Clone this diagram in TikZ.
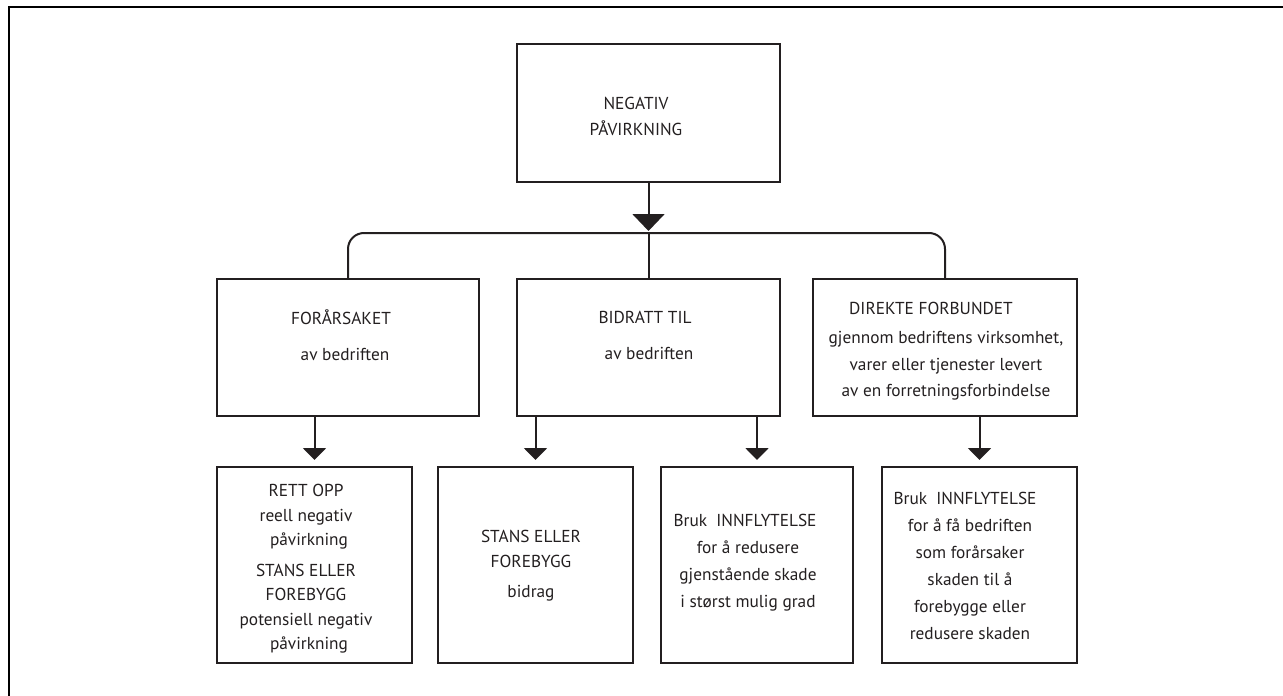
\documentclass[tikz,border=0pt]{standalone}
\usepackage{fontspec}
\setmainfont{PT Sans}
\usetikzlibrary{arrows.meta}
\definecolor{ink}{HTML}{231F20}
\begin{document}
\begin{tikzpicture}[x=1pt,y=-1pt,
  box/.style={draw=ink, line width=2pt, inner sep=0pt, outer sep=0pt},
  txt/.style={text=ink, align=center, inner sep=0pt, font=\fontsize{17.3}{24.5}\selectfont},
  wire/.style={draw=ink, line width=2pt},
  bigarrow/.style={wire, -{Triangle[width=32pt,length=17pt]}},
  smallarrow/.style={wire, -{Triangle[width=23pt,length=12pt]}, shorten >=7pt}]
\useasboundingbox (0,0) rectangle (1283,696);
% outer frame (only top and left visible)
\draw[line width=2.2pt, black] (9,696) -- (9,7) -- (1283,7);

% boxes
\node[box, minimum width=263pt, minimum height=138pt] (top) at (648.5,113) {};
\node[box, minimum width=262pt, minimum height=137pt] (L) at (348,347.5) {};
\node[box, minimum width=263pt, minimum height=137pt] (M) at (648.5,347.5) {};
\node[box, minimum width=264pt, minimum height=137pt] (R) at (945,347.5) {};
\node[box, minimum width=195pt, minimum height=196pt] (B1) at (314.5,565) {};
\node[box, minimum width=195pt, minimum height=196pt] (B2) at (535.5,565) {};
\node[box, minimum width=192pt, minimum height=196pt] (B3) at (757,565) {};
\node[box, minimum width=195pt, minimum height=196pt] (B4) at (979.5,565) {};

% texts
\node[txt, font=\fontsize{17.3}{26}\selectfont] (ttop) at (636,116) {NEGATIV\\PÅVIRKNING};
\node[txt, font=\fontsize{17.3}{36}\selectfont] (tL) at (341,335) {FORÅRSAKET\\\hspace*{8pt}av bedriften};
\node[txt, font=\fontsize{17.3}{36}\selectfont] (tM) at (645,335) {BIDRATT TIL\\\hspace*{8pt}av bedriften};
\node[txt, font=\fontsize{17.3}{26.5}\selectfont] (tR) at (946,351) {DIREKTE FORBUNDET\hspace*{30pt}\\[3pt]gjennom bedriftens virksomhet,\\varer eller tjenester levert\\av en forretningsforbindelse};
\node[txt] (t1) at (306,569) {RETT OPP\\reell negativ\\\hspace*{6pt}påvirkning\\[6pt]STANS ELLER\\FOREBYGG\\potensiell negativ\\\hspace*{6pt}påvirkning};
\node[txt] (t2) at (531,566) {STANS ELLER\\FOREBYGG\\[6pt]bidrag};
\node[txt, font=\fontsize{17.3}{27}\selectfont] (t3) at (748,562.5) {Bruk\ \ INNFLYTELSE\hspace*{6pt}\\for å redusere\\gjenstående skade\\i størst mulig grad};
\node[txt, font=\fontsize{17.3}{27}\selectfont] (t4) at (970,565.5) {Bruk\ \ INNFLYTELSE\hspace*{10pt}\\for å få bedriften\\som forårsaker\\skaden til å\\forebygge eller\\redusere skaden};

% connectors
\coordinate (tip) at (648.5,231);
\coordinate (bus) at (648.5,233);
\draw[bigarrow] (top.south) -- (tip);
\draw[wire, rounded corners=16pt] (L.north) |- (bus) -| (R.north);
\draw[wire] (bus) -- (M.north);
\draw[smallarrow] (B1.north |- L.south) -- (B1.north);
\draw[smallarrow] (B2.north |- M.south) -- (B2.north);
\draw[smallarrow] (B3.north |- M.south) -- (B3.north);
\draw[smallarrow] (B4.north |- R.south) -- (B4.north);
\end{tikzpicture}
\end{document}
